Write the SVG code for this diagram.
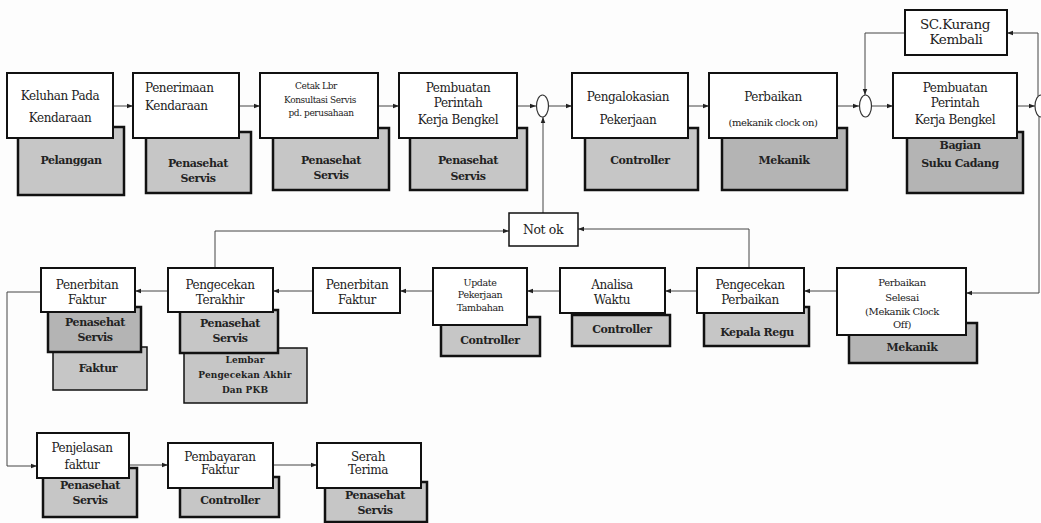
<svg xmlns="http://www.w3.org/2000/svg" width="1041" height="523" viewBox="0 0 1041 523">
<style>
.w{fill:#fff;stroke:#111;stroke-width:2}
.g{fill:#c6c6c6;stroke:#111;stroke-width:2.5}
.gd{fill:#b4b4b4;stroke:#111;stroke-width:2.5}
.t{font-family:'DejaVu Serif','Liberation Serif',serif;font-size:12px;fill:#222;text-anchor:middle;dominant-baseline:central;letter-spacing:-0.4px}
.s{font-size:9px}
.m{font-size:10px}
.b{font-weight:bold;font-size:11px}
.bs{font-weight:bold;font-size:9px;letter-spacing:0.1px}
.c{fill:none;stroke:#444;stroke-width:1}
.j{fill:#fff;stroke:#333;stroke-width:1.2}
</style>
<defs>
<marker id="a" viewBox="0 0 8 8" refX="8" refY="4" markerWidth="6" markerHeight="6" orient="auto" markerUnits="userSpaceOnUse">
<path d="M0,1 L8,4 L0,7 Z" fill="#222"/>
</marker>
</defs>
<rect width="1041" height="523" fill="#fdfdfd"/>
<g id="connectors">
<path class="c" d="M113,106 H133" marker-end="url(#a)"/>
<path class="c" d="M239,106 H260" marker-end="url(#a)"/>
<path class="c" d="M378,106 H399" marker-end="url(#a)"/>
<path class="c" d="M517,106 H536" marker-end="url(#a)"/>
<path class="c" d="M549,106 H572" marker-end="url(#a)"/>
<path class="c" d="M688,106 H709" marker-end="url(#a)"/>
<path class="c" d="M837,106 H859" marker-end="url(#a)"/>
<path class="c" d="M872,106 H893" marker-end="url(#a)"/>
<path class="c" d="M1017,106 H1035" marker-end="url(#a)"/>
<path class="c" d="M1038,96 V33 H1007" marker-end="url(#a)"/>
<path class="c" d="M905,33 H865 V95" marker-end="url(#a)"/>
<path class="c" d="M1039,117 V293 H966" marker-end="url(#a)"/>
<path class="c" d="M837,291 H804" marker-end="url(#a)"/>
<path class="c" d="M749,268 V229 H578" marker-end="url(#a)"/>
<path class="c" d="M543,213 V117" marker-end="url(#a)"/>
<path class="c" d="M215,268 V231 H509" marker-end="url(#a)"/>
<path class="c" d="M697,291 H665" marker-end="url(#a)"/>
<path class="c" d="M560,291 H527" marker-end="url(#a)"/>
<path class="c" d="M433,291 H400" marker-end="url(#a)"/>
<path class="c" d="M313,291 H273" marker-end="url(#a)"/>
<path class="c" d="M168,291 H135" marker-end="url(#a)"/>
<path class="c" d="M41,292 H7 V466 H37" marker-end="url(#a)"/>
<path class="c" d="M129,465 H168" marker-end="url(#a)"/>
<path class="c" d="M273,465 H317" marker-end="url(#a)"/>
</g>
<g id="j1"><ellipse class="j" cx="542.5" cy="106" rx="6" ry="11"/></g>
<g id="j2"><ellipse class="j" cx="865.5" cy="106" rx="6" ry="11"/></g>
<g id="j3"><ellipse class="j" cx="1041" cy="106" rx="6" ry="11"/></g>

<g id="n1">
<rect class="g" x="18" y="127" width="106" height="68"/>
<rect class="w" x="7" y="73" width="106" height="65"/>
<text class="t" x="60" y="96">Keluhan Pada</text>
<text class="t" x="60" y="118">Kendaraan</text>
<text class="t b" x="71" y="160">Pelanggan</text>
</g>
<g id="n2">
<rect class="g" x="146" y="132" width="105" height="61"/>
<rect class="w" x="133" y="73" width="106" height="65"/>
<text class="t" x="145" y="88" style="text-anchor:start">Penerimaan</text>
<text class="t" x="145" y="106" style="text-anchor:start">Kendaraan</text>
<text class="t b" x="198" y="163">Penasehat</text>
<text class="t b" x="198" y="178">Servis</text>
</g>
<g id="n3">
<rect class="g" x="273" y="128" width="116" height="62"/>
<rect class="w" x="260" y="73" width="118" height="65"/>
<text class="t s" x="316" y="86">Cetak Lbr</text>
<text class="t s" x="320" y="100">Konsultasi Servis</text>
<text class="t s" x="321" y="113">pd. perusahaan</text>
<text class="t b" x="331" y="160">Penasehat</text>
<text class="t b" x="331" y="175">Servis</text>
</g>
<g id="n4">
<rect class="g" x="410" y="128" width="117" height="62"/>
<rect class="w" x="399" y="73" width="118" height="65"/>
<text class="t" x="458" y="88">Pembuatan</text>
<text class="t" x="458" y="103">Perintah</text>
<text class="t" x="458" y="120">Kerja Bengkel</text>
<text class="t b" x="468" y="160">Penasehat</text>
<text class="t b" x="468" y="176">Servis</text>
</g>
<g id="n5">
<rect class="g" x="585" y="128" width="113" height="62"/>
<rect class="w" x="572" y="73" width="116" height="65"/>
<text class="t" x="628" y="97">Pengalokasian</text>
<text class="t" x="628" y="120">Pekerjaan</text>
<text class="t b" x="640" y="160">Controller</text>
</g>
<g id="n6">
<rect class="gd" x="722" y="128" width="125" height="62"/>
<rect class="w" x="709" y="73" width="128" height="65"/>
<text class="t" x="773" y="97">Perbaikan</text>
<text class="t m" x="773" y="122">(mekanik clock on)</text>
<text class="t b" x="784" y="160">Mekanik</text>
</g>
<g id="n7">
<rect class="gd" x="907" y="132" width="116" height="61"/>
<rect class="w" x="893" y="73" width="124" height="65"/>
<text class="t" x="955" y="88">Pembuatan</text>
<text class="t" x="955" y="103">Perintah</text>
<text class="t" x="955" y="120">Kerja Bengkel</text>
<text class="t b" x="960" y="145">Bagian</text>
<text class="t b" x="960" y="163">Suku Cadang</text>
</g>
<g id="sc">
<rect class="w" x="905" y="10" width="102" height="45"/>
<text class="t" x="955" y="24" style="font-size:13.5px">SC.Kurang</text>
<text class="t" x="956" y="39" style="font-size:13.5px">Kembali</text>
</g>
<g id="notok">
<rect class="w" x="509" y="213" width="69" height="33" style="stroke-width:1.5"/>
<text class="t" x="543" y="229" style="font-size:12.5px">Not ok</text>
</g>

<g id="n8">
<rect class="gd" x="849" y="323" width="128" height="40"/>
<rect class="w" x="837" y="268" width="129" height="67"/>
<text class="t m" x="902" y="282">Perbaikan</text>
<text class="t m" x="902" y="297">Selesai</text>
<text class="t m" x="902" y="311">(Mekanik Clock</text>
<text class="t m" x="902" y="324">Off)</text>
<text class="t b" x="912" y="347">Mekanik</text>
</g>
<g id="n9">
<rect class="g" x="704" y="307" width="105" height="39"/>
<rect class="w" x="697" y="268" width="107" height="45"/>
<text class="t" x="750" y="285">Pengecekan</text>
<text class="t" x="750" y="300">Perbaikan</text>
<text class="t b" x="757" y="332">Kepala Regu</text>
</g>
<g id="n10">
<rect class="g" x="572" y="315" width="98" height="31"/>
<rect class="w" x="560" y="268" width="105" height="45"/>
<text class="t" x="612" y="285">Analisa</text>
<text class="t" x="612" y="300">Waktu</text>
<text class="t b" x="622" y="329">Controller</text>
</g>
<g id="n11">
<rect class="g" x="441" y="317" width="99" height="39"/>
<rect class="w" x="433" y="268" width="94" height="57"/>
<text class="t s" x="480" y="282" style="font-size:9.5px">Update</text>
<text class="t s" x="480" y="294" style="font-size:9.5px">Pekerjaan</text>
<text class="t s" x="480" y="307" style="font-size:9.5px">Tambahan</text>
<text class="t b" x="490" y="340">Controller</text>
</g>
<g id="n12">
<rect class="w" x="313" y="268" width="87" height="45"/>
<text class="t" x="357" y="285">Penerbitan</text>
<text class="t" x="357" y="300">Faktur</text>
</g>
<g id="n13">
<rect class="g" x="184" y="348" width="123" height="55" style="stroke-width:1.5"/>
<rect class="g" x="180" y="310" width="98" height="43"/>
<rect class="w" x="168" y="268" width="105" height="44"/>
<text class="t" x="220" y="285">Pengecekan</text>
<text class="t" x="220" y="300">Terakhir</text>
<text class="t b" x="230" y="323">Penasehat</text>
<text class="t b" x="230" y="338">Servis</text>
<text class="t bs" x="245" y="360">Lembar</text>
<text class="t bs" x="245" y="375">Pengecekan Akhir</text>
<text class="t bs" x="245" y="390">Dan PKB</text>
</g>
<g id="n14">
<rect class="g" x="53" y="347" width="94" height="43" style="stroke-width:1.5"/>
<rect class="gd" x="48" y="307" width="93" height="45"/>
<rect class="w" x="41" y="268" width="94" height="44"/>
<text class="t" x="87" y="285">Penerbitan</text>
<text class="t" x="87" y="300">Faktur</text>
<text class="t b" x="95" y="322">Penasehat</text>
<text class="t b" x="95" y="337">Servis</text>
<text class="t b" x="98" y="368">Faktur</text>
</g>

<g id="n15">
<rect class="g" x="43" y="468" width="94" height="49"/>
<rect class="w" x="37" y="433" width="92" height="45"/>
<text class="t" x="82" y="448">Penjelasan</text>
<text class="t" x="82" y="465">faktur</text>
<text class="t b" x="90" y="485">Penasehat</text>
<text class="t b" x="90" y="500">Servis</text>
</g>
<g id="n16">
<rect class="g" x="180" y="477" width="99" height="40"/>
<rect class="w" x="168" y="443" width="105" height="45"/>
<text class="t" x="220" y="457">Pembayaran</text>
<text class="t" x="220" y="470">Faktur</text>
<text class="t b" x="230" y="500">Controller</text>
</g>
<g id="n17">
<rect class="g" x="325" y="482" width="102" height="40"/>
<rect class="w" x="317" y="443" width="104" height="45"/>
<text class="t" x="368" y="457">Serah</text>
<text class="t" x="368" y="470">Terima</text>
<text class="t b" x="375" y="495">Penasehat</text>
<text class="t b" x="375" y="510">Servis</text>
</g>
</svg>
